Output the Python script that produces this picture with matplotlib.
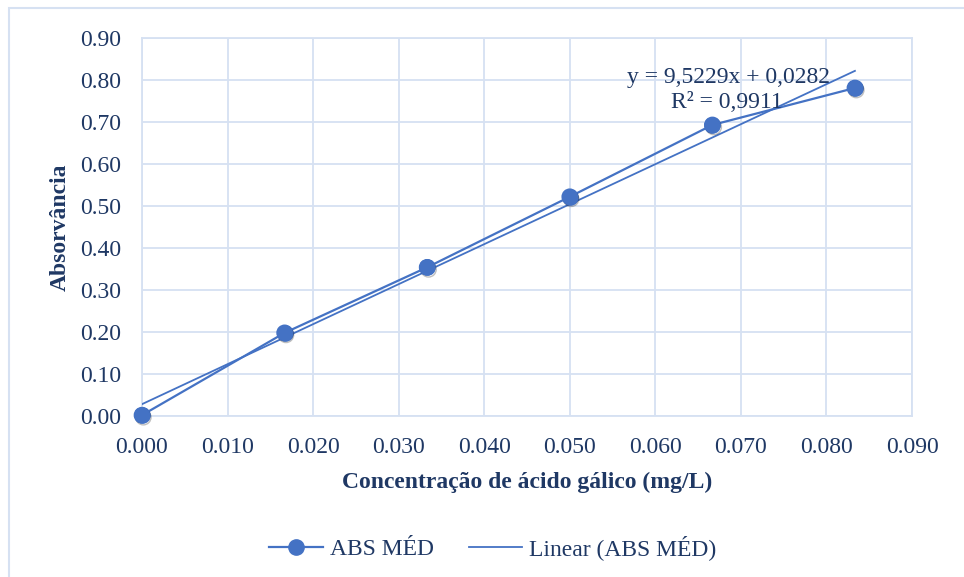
import matplotlib

matplotlib.use("Agg")
import matplotlib.pyplot as plt  # noqa: E402
import matplotlib.patheffects as pe  # noqa: E402
import numpy as np  # noqa: E402
from matplotlib.patches import Rectangle  # noqa: E402

# gallic acid calibration curve
conc = [0.0, 0.01667, 0.03333, 0.05, 0.06667, 0.08333]
abs_med = [0.002, 0.198, 0.354, 0.522, 0.693, 0.781]

SLOPE = 9.5229
INTERCEPT = 0.0282
R2 = 0.9911

x_ticks = [0.0, 0.01, 0.02, 0.03, 0.04, 0.05, 0.06, 0.07, 0.08, 0.09]
y_ticks = [0.0, 0.1, 0.2, 0.3, 0.4, 0.5, 0.6, 0.7, 0.8, 0.9]

LINE = "#4472C4"
TEXT = "#1F3864"
GRID = "#D6E1F2"
FS = 17

plt.rcParams["font.family"] = ["Liberation Serif", "DejaVu Serif"]

fig = plt.figure(figsize=(9.64, 5.77), dpi=100)
ax = fig.add_axes([142 / 964, 1 - 416 / 577, 770 / 964, 378 / 577])

# outer chart frame, runs off the right and bottom edges
fig.patches.append(Rectangle((9 / 964, -0.05), 1.0, 1 - 8 / 577 + 0.05,
                             transform=fig.transFigure, fill=False,
                             edgecolor=GRID, linewidth=1.5))

shadow = [pe.SimpleLineShadow(offset=(1, -1.5), shadow_color="#000000", alpha=0.25),
          pe.Normal()]
ax.plot(conc, abs_med, color=LINE, linewidth=1.6, marker="o", markersize=11,
        markerfacecolor=LINE, markeredgecolor=LINE, label="ABS MÉD",
        zorder=4, clip_on=False)
ax.plot(conc, abs_med, linestyle="none", marker="o", markersize=11,
        color=LINE, path_effects=shadow, zorder=4, clip_on=False)

xf = np.array([conc[0], conc[-1]])
ax.plot(xf, SLOPE * xf + INTERCEPT, color=LINE, linewidth=1.3,
        label="Linear (ABS MÉD)", zorder=3)

ax.text(0.0686, 0.806, f"y = {SLOPE:.4f}x + {INTERCEPT:.4f}".replace(".", ","),
        ha="center", va="center", fontsize=FS, color=TEXT, zorder=5)
ax.text(0.0684, 0.746, f"R² = {R2:.4f}".replace(".", ","), ha="center",
        va="center", fontsize=FS, color=TEXT, zorder=5)

ax.set_xlim(0, 0.09)
ax.set_ylim(0, 0.9)
ax.set_xticks(x_ticks)
ax.set_yticks(y_ticks)
ax.set_xticklabels([f"{v:.3f}" for v in x_ticks])
ax.set_yticklabels([f"{v:.2f}" for v in y_ticks])
ax.tick_params(length=0, labelsize=FS, labelcolor=TEXT)
ax.tick_params(axis="x", pad=15)
ax.tick_params(axis="y", pad=15)
ax.grid(True, color=GRID, linewidth=1.3)
ax.set_axisbelow(True)
for s in ax.spines.values():
    s.set_color(GRID)
    s.set_linewidth(1.3)

ax.set_xlabel("Concentração de ácido gálico (mg/L)", fontsize=FS,
              fontweight="bold", color=TEXT, labelpad=10)
ax.set_ylabel("Absorvância", fontsize=FS, fontweight="bold", color=TEXT,
              labelpad=7)

ax.legend(loc="center", bbox_to_anchor=((493 - 142) / 770, -(548 - 416) / 378),
          ncol=2, frameon=False, fontsize=FS, labelcolor=TEXT,
          handlelength=2.25, columnspacing=1.5, handletextpad=0.3)

fig.savefig("out.png", dpi=100)
plt.close(fig)
